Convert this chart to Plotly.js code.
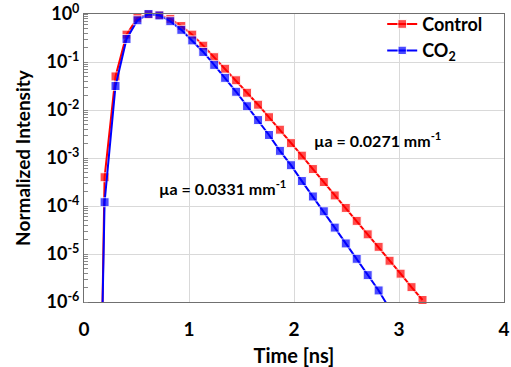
<!DOCTYPE html>
<html>
<head>
<meta charset="utf-8">
<script src="https://cdn.plot.ly/plotly-3.0.1.min.js"></script>
<style>html,body{margin:0;padding:0;background:#fff;}#chart{width:511px;height:367px;}</style>
</head>
<body>
<div id="chart"></div>
<script>
// Time axis values (ns)
const timeNs = [0.092, 0.196, 0.300, 0.405, 0.509, 0.614, 0.718, 0.822, 0.927, 1.031, 1.136,
  1.240, 1.344, 1.449, 1.553, 1.658, 1.762, 1.866, 1.971, 2.075, 2.180,
  2.284, 2.388, 2.493, 2.597, 2.702, 2.806, 2.910, 3.015, 3.119, 3.224];

const controlIntensity = [5e-18, 3.98e-4, 5.01e-2, 0.372, 0.832, 0.977, 0.955, 0.794, 0.562, 0.372, 0.219,
  0.126, 7.24e-2, 4.17e-2, 2.29e-2, 1.29e-2, 7.08e-3, 3.89e-3, 2.04e-3, 1.12e-3, 5.89e-4,
  3.16e-4, 1.66e-4, 9.12e-5, 4.90e-5, 2.57e-5, 1.41e-5, 7.24e-6, 3.89e-6, 2.04e-6, 1.10e-6];

const co2Intensity = [2.5e-16, 1.20e-4, 3.16e-2, 0.302, 0.741, 1.0, 0.933, 0.708, 0.468, 0.282, 0.162,
  8.71e-2, 4.68e-2, 2.40e-2, 1.20e-2, 6.17e-3, 3.02e-3, 1.41e-3, 7.08e-4, 3.31e-4, 1.58e-4,
  7.76e-5, 3.55e-5, 1.66e-5, 7.94e-6, 3.63e-6, 1.74e-6, 7.24e-7];

const seriesNames = ['Control', 'CO<sub>2</sub>'];
const yTickVals = [1e-6, 1e-5, 1e-4, 1e-3, 1e-2, 1e-1, 1];
const yTickText = ['10<sup>-6</sup>', '10<sup>-5</sup>', '10<sup>-4</sup>', '10<sup>-3</sup>', '10<sup>-2</sup>', '10<sup>-1</sup>', '10<sup>0</sup>'];
const xTickVals = [0, 1, 2, 3, 4];
const annotationTexts = ['µa = 0.0271 mm<sup>-1</sup>', 'µa = 0.0331 mm<sup>-1</sup>'];

const FONT = 'Lato, "Liberation Sans", sans-serif';
const Y_MIN = 1e-6;
// markers below the visible range are not drawn (only their connecting line is, clipped)
const markerSizes = ys => ys.map(v => (v < Y_MIN * 0.99 ? 0 : 9));

const traces = [
  {
    x: timeNs.slice(0, controlIntensity.length), y: controlIntensity, name: seriesNames[0],
    type: 'scatter', mode: 'lines+markers', legendgroup: 'a', cliponaxis: false,
    line: {color: '#ff0000', width: 2},
    marker: {symbol: 'square', size: markerSizes(controlIntensity), color: '#ff0000'}
  },
  {
    x: timeNs.slice(0, co2Intensity.length), y: co2Intensity, name: seriesNames[1],
    type: 'scatter', mode: 'lines+markers', legendgroup: 'b', cliponaxis: false,
    line: {color: '#0000ff', width: 2},
    marker: {symbol: 'square', size: markerSizes(co2Intensity), color: '#0000ff'}
  }
];

const layout = {
  width: 511, height: 367,
  margin: {l: 84, r: 7, t: 13, b: 65},
  paper_bgcolor: '#fff', plot_bgcolor: '#fff',
  font: {family: FONT, color: '#000'},
  showlegend: true,
  legend: {
    x: 0.71, y: 1.025, xanchor: 'left', yanchor: 'top',
    bgcolor: 'rgba(0,0,0,0)', borderwidth: 0,
    font: {family: FONT, size: 18, color: '#000', weight: 'bold'},
    itemwidth: 30, tracegroupgap: 0, traceorder: 'grouped'
  },
  xaxis: {
    range: [0, 4], tickvals: xTickVals, ticktext: xTickVals.map(String),
    showgrid: true, gridcolor: '#d9d9d9', gridwidth: 1,
    showline: true, linecolor: '#707070', linewidth: 1, mirror: true,
    zeroline: false, ticks: 'outside', ticklen: 10, tickcolor: 'rgba(0,0,0,0)',
    tickfont: {family: FONT, size: 19, weight: 'bold'},
    title: {text: 'Time [ns]', font: {family: FONT, size: 20, weight: 'bold'}, standoff: 11}
  },
  yaxis: {
    type: 'log', range: [-6, 0.0005], tickvals: yTickVals, ticktext: yTickText,
    showgrid: true, gridcolor: '#d9d9d9', gridwidth: 1,
    showline: true, linecolor: '#707070', linewidth: 1, mirror: true,
    zeroline: false, ticks: '',
    tickfont: {family: FONT, size: 18, weight: 'bold'},
    minor: {ticks: 'inside', ticklen: 4, tickcolor: '#888', dtick: 'D1', showgrid: false},
    title: {text: 'Normalized Intensity', font: {family: FONT, size: 19, weight: 'bold'}, standoff: 10}
  },
  annotations: [
    {x: 2.175, y: -2.62, xref: 'x', yref: 'y', xanchor: 'left', yanchor: 'middle', showarrow: false,
     text: annotationTexts[0], font: {family: FONT, size: 16, weight: 'bold', color: '#000'}},
    {x: 0.692, y: -3.62, xref: 'x', yref: 'y', xanchor: 'left', yanchor: 'middle', showarrow: false,
     text: annotationTexts[1], font: {family: FONT, size: 16, weight: 'bold', color: '#000'}}
  ]
};

Plotly.newPlot('chart', traces, layout, {staticPlot: true, displayModeBar: false});
</script>
</body>
</html>
